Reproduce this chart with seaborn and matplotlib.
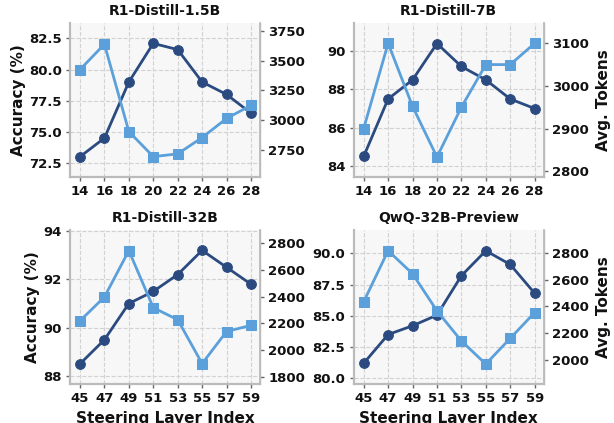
import numpy as np
import pandas as pd
import matplotlib
matplotlib.use("Agg")
import matplotlib.pyplot as plt
import seaborn as sns

titles = ["R1-Distill-1.5B", "R1-Distill-7B", "R1-Distill-32B", "QwQ-32B-Preview"]
layers_small = [14, 16, 18, 20, 22, 24, 26, 28]
layers_large = [45, 47, 49, 51, 53, 55, 57, 59]

acc_15b = [73.0, 74.5, 79.0, 82.1, 81.6, 79.0, 78.0, 76.5]
tok_15b = [3425, 3638, 2905, 2695, 2718, 2855, 3015, 3125]
acc_7b = [84.5, 87.5, 88.5, 90.4, 89.2, 88.5, 87.5, 87.0]
tok_7b = [2900, 3100, 2952, 2833, 2950, 3050, 3050, 3100]
acc_32b = [88.5, 89.5, 91.0, 91.5, 92.2, 93.2, 92.5, 91.8]
tok_32b = [2220, 2398, 2745, 2318, 2228, 1900, 2140, 2186]
acc_qwq = [81.2, 83.5, 84.2, 85.05, 88.2, 90.2, 89.1, 86.8]
tok_qwq = [2434, 2817, 2644, 2366, 2140, 1967, 2160, 2353]

acc_ticks = [[72.5, 75.0, 77.5, 80.0, 82.5], [84, 86, 88, 90], [88, 90, 92, 94], [80.0, 82.5, 85.0, 87.5, 90.0]]
tok_ticks = [[2750, 3000, 3250, 3500, 3750], [2800, 2900, 3000, 3100], [1800, 2000, 2200, 2400, 2600, 2800], [2000, 2200, 2400, 2600, 2800]]
acc_lims = [(71.4, 83.75), (83.44, 91.48), (87.68, 94.05), (79.57, 91.87)]
tok_lims = [(2527, 3817), (2787, 3148), (1750, 2900), (1820, 2973)]

dark = "#2b4a80"
light = "#5ba0da"
txt = "#111111"

sns.set_theme(style="whitegrid")
plt.rcParams['font.family'] = ['DejaVu Sans']
plt.rcParams['font.weight'] = 'bold'
plt.rcParams['text.color'] = txt
plt.rcParams['axes.labelcolor'] = txt
plt.rcParams['xtick.color'] = txt
plt.rcParams['ytick.color'] = txt

fig, axes = plt.subplots(2, 2, figsize=(6.14, 4.23), dpi=100)
fig.subplots_adjust(left=0.114, right=0.8855, top=0.946, bottom=0.093, wspace=0.493, hspace=0.346)

datasets = [
    (layers_small, acc_15b, tok_15b),
    (layers_small, acc_7b, tok_7b),
    (layers_large, acc_32b, tok_32b),
    (layers_large, acc_qwq, tok_qwq),
]

TS = 9.5
for i, ax in enumerate(axes.flat):
    xs, acc, tok = datasets[i]
    df = pd.DataFrame({"layer": xs, "acc": acc, "tok": tok})
    ax.set_facecolor("#f7f7f7")
    sns.lineplot(data=df, x="layer", y="acc", ax=ax, color=dark, marker="o",
                 markersize=7, linewidth=2, markeredgecolor=dark, zorder=3)
    ax2 = ax.twinx()
    sns.lineplot(data=df, x="layer", y="tok", ax=ax2, color=light, marker="s",
                 markersize=7, linewidth=2, markeredgecolor=light, zorder=3)
    ax.set_xticks(xs)
    ax.set_xticklabels([str(v) for v in xs], fontsize=TS, fontweight="bold")
    ax.set_xlim(xs[0] - 0.82, xs[-1] + 0.74)
    ax.set_ylim(*acc_lims[i])
    ax.set_yticks(acc_ticks[i])
    if i in (0, 3):
        ax.set_yticklabels([f"{v:.1f}" for v in acc_ticks[i]], fontsize=TS, fontweight="bold")
    else:
        ax.set_yticklabels([f"{v:d}" for v in acc_ticks[i]], fontsize=TS, fontweight="bold")
    ax2.set_ylim(*tok_lims[i])
    ax2.set_yticks(tok_ticks[i])
    ax2.set_yticklabels([str(v) for v in tok_ticks[i]], fontsize=TS, fontweight="bold")
    ax2.grid(False)
    ax.grid(True, linestyle="--", color="#d2d2d2", linewidth=0.8)
    ax.set_title(titles[i], fontsize=10, fontweight="bold", pad=6)
    ax.set_xlabel("Steering Layer Index" if i >= 2 else "", fontsize=11, fontweight="bold", labelpad=4)
    ax.set_ylabel("Accuracy (%)" if i % 2 == 0 else "", fontsize=11, fontweight="bold", labelpad=2)
    ax2.set_ylabel("Avg. Tokens" if i % 2 == 1 else "", fontsize=11, fontweight="bold", labelpad=5)
    for a in (ax, ax2):
        a.spines["top"].set_visible(False)
        for s in ("left", "bottom", "right"):
            a.spines[s].set_color("#bbbbbb")
    ax.spines["left"].set_linewidth(1.6)
    ax.spines["bottom"].set_linewidth(1.6)
    ax2.spines["left"].set_visible(False)
    ax2.spines["bottom"].set_visible(False)
    ax2.spines["right"].set_linewidth(1.0)
    ax.tick_params(axis="both", length=3, width=1, color="#666666", pad=3, left=True, bottom=True)
    ax2.tick_params(axis="y", length=3, width=1, color="#666666", pad=3, right=True)

fig.savefig("out.png", dpi=100)
